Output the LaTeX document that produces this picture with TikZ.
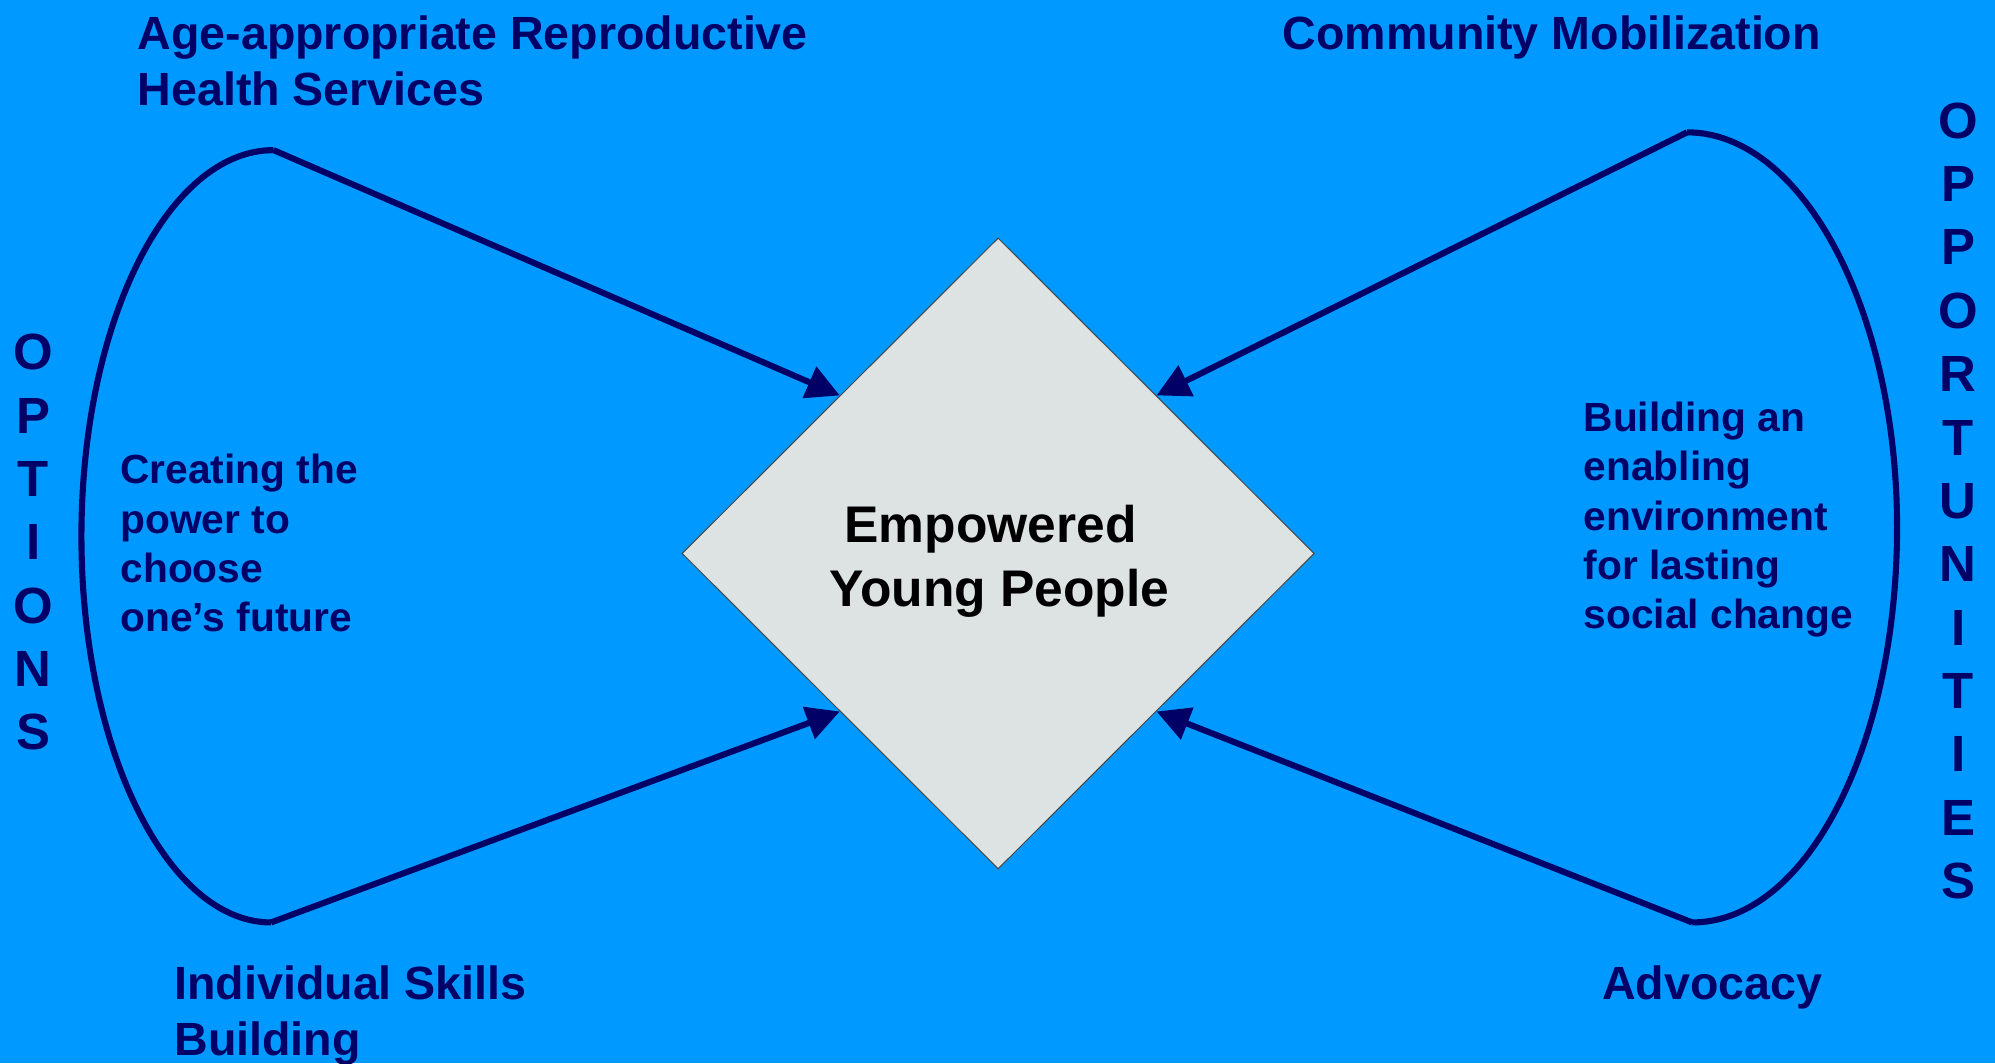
\documentclass[tikz,border=0pt]{standalone}
\usepackage{fontspec}
\setmainfont{Liberation Sans}
\usetikzlibrary{shapes.geometric,arrows.meta}
\definecolor{bg}{RGB}{0,153,255}
\definecolor{navy}{RGB}{0,0,102}
\definecolor{dfill}{RGB}{221,227,227}
\definecolor{dborder}{RGB}{70,70,70}
\tikzset{
  lbl/.style={inner sep=0pt, anchor=north west, align=left, text=navy,
    font=\fontsize{36.6}{44}\selectfont\bfseries},
  inner/.style={inner sep=0pt, anchor=north west, align=left, text=navy,
    font=\fontsize{32}{38.6}\selectfont\bfseries},
  vert/.style={inner sep=0pt, anchor=north, align=center, text=navy,
    font=\fontsize{40}{49.8}\selectfont\bfseries},
  loopline/.style={draw=navy, line width=4.8pt, line join=round},
  arr/.style={draw=navy, line width=4.8pt, -{Triangle[length=26pt,width=26pt]}},
}
\begin{document}
\begin{tikzpicture}[x=1pt,y=-1pt]
\fill[bg] (0,0) rectangle (1568,835.5);
\useasboundingbox (0,0) rectangle (1568,835.5);

% central diamond
\node[diamond, draw=dborder, fill=dfill, line width=0.8pt, inner sep=0pt,
      minimum width=497pt, minimum height=496pt] (d) at (784.5,435) {};
\node[inner sep=0pt, anchor=north, align=center, text=black,
      font=\fontsize{40.5}{50.2}\selectfont\bfseries] (dl) at (785.5,396.6)
      {\hbox{Empowered\kern14pt}\\Young People};

% loop vertices
\coordinate (lt) at (215,118);
\coordinate (lb) at (213,725);
\coordinate (rt) at (1326,104);
\coordinate (rb) at (1330,725);

% left loop
\draw[loopline] (lt) .. controls (131.6,118) and (64,253.9) .. (64,421.5)
                     .. controls (64,589.1) and (131.6,725) .. (lb);
% right loop
\draw[loopline] (rt) .. controls (1416,104) and (1491,243) .. (1491,414.5)
                     .. controls (1491,586) and (1420,725) .. (rb);

% arrows
\draw[arr] (lt) -- (d.north west);
\draw[arr] (lb) -- (d.south west);
\draw[arr] (rt) -- (d.north east);
\draw[arr] (rb) -- (d.south east);

% labels
\node[lbl] (arh) at (108,12.2) {Age-appropriate Reproductive\\Health Services};
\node[lbl] (cm) at (1008,12.2) {Community Mobilization};
\node[lbl] (isb) at (137,759) {Individual Skills\\Building};
\node[lbl] (adv) at (1259,759) {Advocacy};

\node[inner] (ctp) at (94.5,357) {Creating the\\power to\\choose\\one’s future};
\node[inner] (bee) at (1244.5,316) {Building an\\enabling\\environment\\for lasting\\social change};

\node[vert] (opt) at (26,262.5) {O\\P\\T\\I\\O\\N\\S};
\node[vert] (opp) at (1539,80.5) {O\\P\\P\\O\\R\\T\\U\\N\\I\\T\\I\\E\\S};
\end{tikzpicture}
\end{document}
